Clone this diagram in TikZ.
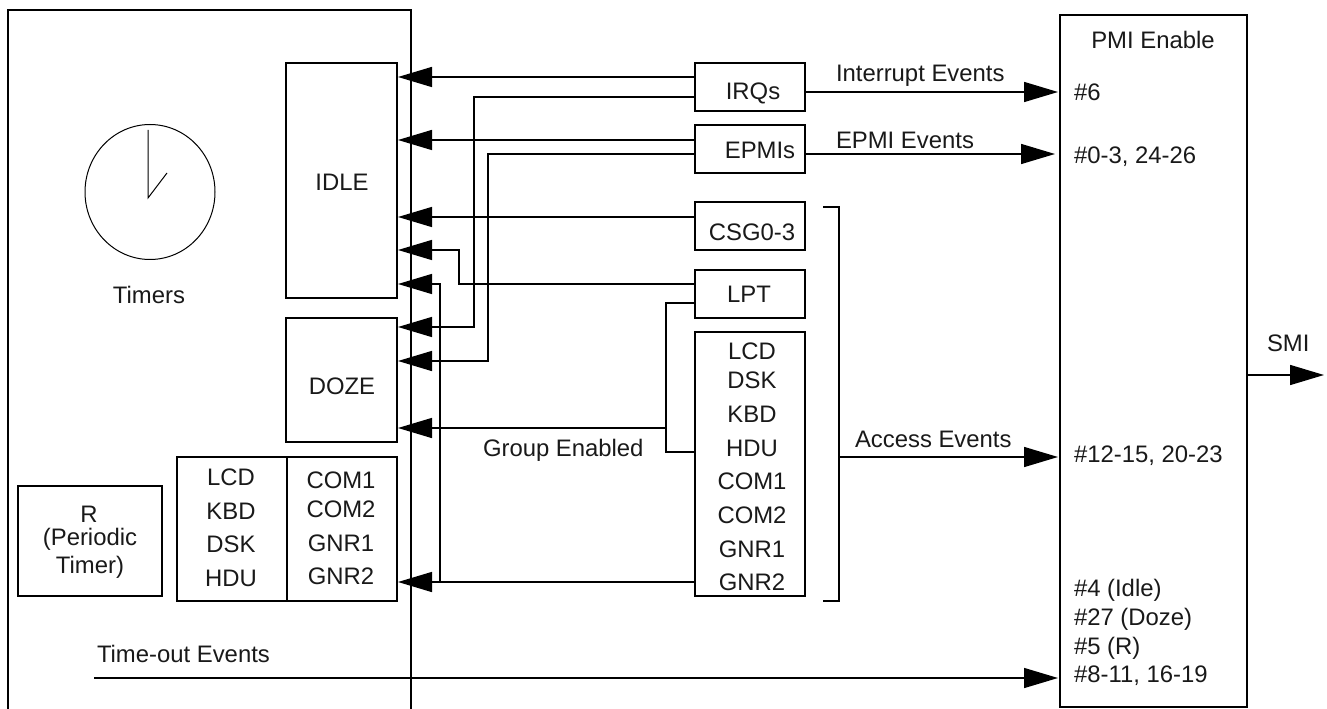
\documentclass[tikz,border=0pt]{standalone}
\usepackage{fontspec}
\setmainfont{Liberation Sans}
\usetikzlibrary{arrows.meta,fit,calc}
\tikzset{
  x=0.75pt,y=-0.75pt,
  wire/.style={line width=1.1pt,line join=miter,black},
  conn/.style={wire,-{Triangle[length=25.5pt,width=15pt,sep=0pt]}},
  thinline/.style={line width=0.75pt,black},
  box/.style={draw=black,line width=1.1pt,inner sep=0pt,outer sep=0pt},
  lbl/.style={anchor=base,inner sep=0pt,outer sep=0pt,text=black!90,font=\fontsize{17.9}{20}\selectfont},
  lbll/.style={lbl,anchor=base west},
}
\newcommand{\bx}[5]{\node[box,fit={(#2,#3)(#4,#5)}] (#1) {};}
\begin{document}
\begin{tikzpicture}
\useasboundingbox (0,0) rectangle (1327,709);
% container and PMI
\draw[wire] (8,709) -- (8,10) -- (411,10) -- (411,709);
\bx{pmi}{1060}{15}{1247}{707}
% clock
\draw[thinline] (150,192) ellipse [x radius=65,y radius=67.5];
\draw[thinline] (148,130) -- (148,198) -- (167,173);
\node[lbl] (ttimers) at (149,303) {Timers};
% state boxes
\bx{idle}{286}{63}{397}{298}
\bx{doze}{286}{318}{397}{442}
\bx{rbox}{18}{486}{162}{596}
\bx{tleft}{177}{457}{287}{601}
\bx{tright}{287}{457}{397}{601}
% source boxes
\bx{irqs}{695}{63}{805}{111}
\bx{epmis}{695}{125}{805}{173}
\bx{csg}{695}{202}{805}{250}
\bx{lpt}{695}{270}{805}{318}
\bx{devs}{695}{332}{805}{596}
% texts in boxes
\node[lbl] (tidle) at (342,191) {IDLE};
\node[lbl] (tdoze) at (342,394) {DOZE};
\node[lbl] (tr1) at (89,522) {R};
\node[lbl] (tr2) at (90,545) {(Periodic};
\node[lbl] (tr3) at (90,573) {Timer)};
\node[lbl] (tl1) at (231,485) {LCD};
\node[lbl] (tl2) at (231,519) {KBD};
\node[lbl] (tl3) at (231,552) {DSK};
\node[lbl] (tl4) at (231,586) {HDU};
\node[lbl] (tc1) at (341,488) {COM1};
\node[lbl] (tc2) at (341,517) {COM2};
\node[lbl] (tc3) at (341,551) {GNR1};
\node[lbl] (tc4) at (341,584) {GNR2};
\node[lbl] (tirq) at (753,100) {IRQs};
\node[lbl] (tepmi) at (760,159) {EPMIs};
\node[lbl] (tcsg) at (752,241) {CSG0-3};
\node[lbl] (tlpt) at (749,302) {LPT};
\node[lbl] (td1) at (752,359) {LCD};
\node[lbl] (td2) at (752,388) {DSK};
\node[lbl] (td3) at (752,422) {KBD};
\node[lbl] (td4) at (752,456) {HDU};
\node[lbl] (td5) at (752,489) {COM1};
\node[lbl] (td6) at (752,523) {COM2};
\node[lbl] (td7) at (752,557) {GNR1};
\node[lbl] (td8) at (752,590) {GNR2};
% event labels
\node[lbll] (tint) at (836,82) {Interrupt Events};
\node[lbll] (tepe) at (836,149) {EPMI Events};
\node[lbll] (tacc) at (855,447) {Access Events};
\node[lbll] (tgrp) at (483,456) {Group Enabled};
\node[lbll] (tout) at (97,662) {Time-out Events};
\node[lbll] (tsmi) at (1267,351) {SMI};
% PMI texts
\node[lbl] (tpmi) at (1153,49) {PMI Enable};
\node[lbll] (p1) at (1074,101) {\#6};
\node[lbll] (p2) at (1074,164) {\#0-3, 24-26};
\node[lbll] (p3) at (1074,462) {\#12-15, 20-23};
\node[lbll] (p4) at (1074,596) {\#4 (Idle)};
\node[lbll] (p5) at (1074,625) {\#27 (Doze)};
\node[lbll] (p6) at (1074,654) {\#5 (R)};
\node[lbll] (p7) at (1074,682) {\#8-11, 16-19};
% connector anchors
\coordinate (irqA) at (695,77);
\coordinate (irqB) at (695,97);
\coordinate (epmA) at (695,140);
\coordinate (epmB) at (695,154);
\coordinate (csgA) at (695,217);
\coordinate (lptA) at (695,284);
\coordinate (lptB) at (695,303);
\coordinate (devA) at (695,452);
\coordinate (devB) at (695,582);
\coordinate (dozeIrq) at (398,327);
\coordinate (dozeEpm) at (398,361);
\coordinate (dozeGrp) at (398,428);
\coordinate (idleLpt) at (398,250);
\coordinate (idleDev) at (398,284);
\coordinate (tmrDev) at (398,582);
\coordinate (busDev) at (440,582);
\coordinate (brT) at (823,207);
\coordinate (brB) at (823,601);
\coordinate (brM) at (839,457);
\coordinate (irqOut) at (805,92);
\coordinate (epmOut) at (805,154);
\coordinate (epmIn) at (1055,154);
\coordinate (smiOut) at (1247,375);
\coordinate (smiEnd) at (1324,375);
\coordinate (toutS) at (94,678);
% connectors to the left
\draw[conn] (irqA) -- (398,77);
\draw[conn] (irqB) -| (474,327) -- (dozeIrq);
\draw[conn] (epmA) -- (398,140);
\draw[conn] (epmB) -| (488,361) -- (dozeEpm);
\draw[conn] (csgA) -- (398,217);
\draw[conn] (lptA) -| (459,250) -- (idleLpt);
\draw[wire] (lptB) -| (666,452) -- (devA);
\draw[conn] (666,428) -- (dozeGrp);
\draw[conn] (devB) -- (tmrDev);
\draw[conn] (busDev) |- (idleDev);
% bracket and events to the right
\draw[wire] (brT) -- (839,207) -- (839,601) -- (brB);
\draw[conn] (irqOut) -- (1058,92);
\draw[conn] (epmOut) -- (epmIn);
\draw[conn] (brM) -- (1058,457);
\draw[conn] (smiOut) -- (smiEnd);
\draw[conn] (toutS) -- (1058,678);
\end{tikzpicture}
\end{document}
